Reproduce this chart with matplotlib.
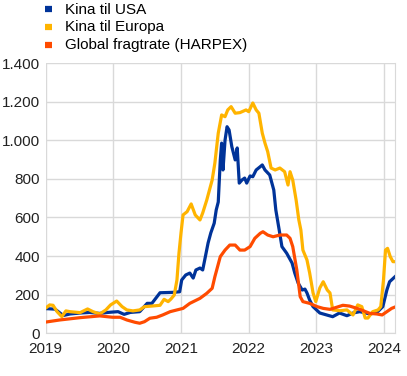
# Freight rates: China to USA / Europe and HARPEX

import matplotlib.pyplot as plt
from matplotlib.ticker import FuncFormatter

plt.rcParams['font.family'] = ['Liberation Sans', 'DejaVu Sans']

labels = ["Kina til USA", "Kina til Europa", "Global fragtrate (HARPEX)"]
colors = ["#003399", "#FFB400", "#FF4B00"]

usa_t = [2019.00, 2019.14, 2019.26, 2019.36, 2019.51, 2019.65, 2019.80, 2019.92,
         2019.99, 2020.07, 2020.16, 2020.25, 2020.39, 2020.50, 2020.57, 2020.69,
         2020.88, 2020.98, 2021.01, 2021.07, 2021.13, 2021.18, 2021.22, 2021.28,
         2021.32, 2021.35, 2021.40, 2021.44, 2021.49, 2021.52, 2021.55, 2021.58,
         2021.60, 2021.62, 2021.65, 2021.68, 2021.71, 2021.75, 2021.80, 2021.83,
         2021.86, 2021.90, 2021.94, 2021.97, 2022.02, 2022.06, 2022.11, 2022.17,
         2022.20, 2022.24, 2022.31, 2022.37, 2022.40, 2022.45, 2022.49, 2022.56,
         2022.64, 2022.68, 2022.73, 2022.79, 2022.83, 2022.86, 2022.90, 2022.95,
         2023.05, 2023.15, 2023.24, 2023.34, 2023.45, 2023.54, 2023.64, 2023.79,
         2023.89, 2023.98, 2024.04, 2024.08, 2024.16]
usa_v = [128, 125, 92, 100, 105, 108, 103, 108,
         110, 112, 98, 108, 112, 155, 155, 210,
         212, 215, 276, 302, 312, 286, 328, 338,
         328, 380, 468, 520, 570, 639, 680, 898,
         985, 846, 1000, 1070, 1053, 967, 898, 960,
         778, 794, 804, 778, 815, 811, 846, 863,
         872, 846, 820, 742, 639, 535, 449, 415,
         364, 312, 260, 224, 229, 209, 172, 138,
         105, 95, 86, 105, 91, 105, 112, 100,
         107, 138, 224, 267, 293]

eur_t = [2019.00, 2019.06, 2019.11, 2019.17, 2019.24, 2019.30, 2019.36, 2019.51,
         2019.62, 2019.70, 2019.80, 2019.89, 2019.96, 2020.05, 2020.13, 2020.20,
         2020.29, 2020.39, 2020.46, 2020.57, 2020.69, 2020.75, 2020.81, 2020.85,
         2020.90, 2020.94, 2020.97, 2021.00, 2021.03, 2021.09, 2021.15, 2021.21,
         2021.28, 2021.32, 2021.38, 2021.46, 2021.50, 2021.55, 2021.60, 2021.65,
         2021.69, 2021.74, 2021.80, 2021.87, 2021.96, 2022.00, 2022.06, 2022.11,
         2022.15, 2022.20, 2022.24, 2022.28, 2022.33, 2022.39, 2022.46, 2022.53,
         2022.58, 2022.61, 2022.65, 2022.70, 2022.74, 2022.77, 2022.80, 2022.86,
         2022.90, 2022.95, 2022.99, 2023.05, 2023.10, 2023.16, 2023.20, 2023.24,
         2023.35, 2023.45, 2023.54, 2023.61, 2023.67, 2023.72, 2023.76, 2023.83,
         2023.91, 2023.95, 2023.99, 2024.02, 2024.05, 2024.09, 2024.13, 2024.16]
eur_v = [130, 147, 145, 112, 86, 116, 112, 107,
         126, 112, 100, 121, 147, 167, 138, 121,
         116, 121, 138, 141, 145, 176, 164, 177,
         198, 276, 416, 520, 613, 630, 670, 613,
         587, 623, 690, 794, 882, 1037, 1131, 1122,
         1157, 1174, 1140, 1143, 1157, 1148, 1193, 1157,
         1140, 1037, 985, 941, 856, 846, 856, 837,
         768, 837, 794, 690, 587, 535, 431, 380,
         312, 209, 164, 235, 267, 224, 209, 121,
         117, 121, 95, 147, 138, 79, 79, 112,
         121, 138, 276, 431, 440, 397, 371, 371]

harpex_t = [2019.00, 2019.21, 2019.51, 2019.80, 2019.99, 2020.10, 2020.20, 2020.32,
            2020.39, 2020.46, 2020.54, 2020.64, 2020.73, 2020.84, 2020.94, 2021.03,
            2021.13, 2021.28, 2021.38, 2021.46, 2021.50, 2021.58, 2021.65, 2021.72,
            2021.80, 2021.87, 2021.94, 2022.02, 2022.09, 2022.17, 2022.21, 2022.28,
            2022.36, 2022.46, 2022.56, 2022.61, 2022.65, 2022.71, 2022.76, 2022.80,
            2022.90, 2023.01, 2023.10, 2023.20, 2023.30, 2023.39, 2023.49, 2023.60,
            2023.69, 2023.79, 2023.89, 2023.97, 2024.04, 2024.11, 2024.16]
harpex_v = [58, 69, 81, 90, 83, 83, 69, 57,
            52, 60, 78, 83, 95, 112, 121, 129,
            155, 181, 207, 233, 293, 397, 431, 457,
            457, 431, 431, 449, 492, 518, 526, 509,
            500, 509, 509, 492, 449, 328, 190, 164,
            155, 138, 129, 124, 135, 145, 141, 129,
            117, 103, 100, 95, 112, 129, 136]

years = [2019, 2020, 2021, 2022, 2023, 2024]
yticks = [0, 200, 400, 600, 800, 1000, 1200, 1400]

fig = plt.figure(figsize=(4.07, 3.76), dpi=100)
ax = fig.add_axes([0.112, 0.1136, 0.8585, 0.7188])

series = [(usa_t, usa_v), (eur_t, eur_v), (harpex_t, harpex_v)]
for (t, v), lab, c in zip(series, labels, colors):
    ax.plot(t, v, color=c, lw=2.3, label=lab, solid_joinstyle='round')

ax.set_xlim(2019, 2024.16)
ax.set_ylim(0, 1400)
ax.set_xticks(years)
ax.set_xticklabels([str(y) for y in years])
ax.set_yticks(yticks)
ax.yaxis.set_major_formatter(FuncFormatter(lambda v, p: f"{int(v):,}".replace(",", ".")))
ax.grid(True, color="#d9d9d9", lw=1)
ax.set_axisbelow(True)
for s in ["top", "left"]:
    ax.spines[s].set_visible(False)
ax.spines["right"].set_color("#d9d9d9")
ax.spines["bottom"].set_color("#d9d9d9")
ax.tick_params(length=0, labelsize=11, colors="#222222", pad=4)
ax.tick_params(axis="x", pad=6)

leg = fig.legend(loc="upper left", bbox_to_anchor=(0.106, 0.997), frameon=False,
                 fontsize=11, handlelength=0.5, handleheight=0.4,
                 handletextpad=0.8, labelspacing=0.25, borderpad=0.1,
                 borderaxespad=0)
for h in leg.get_lines():
    h.set_linewidth(4.5)
    h.set_solid_capstyle('butt')

fig.savefig("out.png", dpi=100)
